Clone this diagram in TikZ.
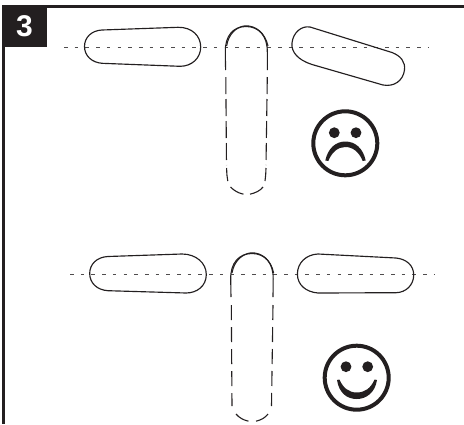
\documentclass[tikz,border=0pt]{standalone}
\usepackage{fontspec}
\setsansfont{Liberation Sans}
\usepackage{xcolor}
\definecolor{inkdark}{HTML}{231F20}
\usetikzlibrary{
	positioning,
	calc
}
\tikzset{
	frameline/.style={draw=inkdark, line width=2.6pt},
	pill/.style={draw=inkdark, line width=1.15pt},
	axisline/.style={draw=inkdark!80, line width=1.5pt, dash pattern=on 3.6pt off 7.1pt},
	ghost/.style={draw=inkdark, line width=1.1pt},
	ghostupper/.style={ghost, dash pattern=on 17pt off 5pt},
	ghostlower/.style={ghost, dash pattern=on 15pt off 7pt},
	faceline/.style={draw=inkdark, line width=4pt},
	eye/.style={fill=inkdark, draw=none},
	numberbox/.style={fill=inkdark, text=white, font=\sffamily\bfseries\fontsize{30}{30}\selectfont, minimum width=45pt, minimum height=42pt, inner sep=0pt}
}
\begin{document}
\begin{tikzpicture}[x=1pt, y=-1pt]
	\useasboundingbox (0,0) rectangle (464,424);
	
	% --- Cornice ---
	\draw[frameline] (464,6.3) -- (3.6,6.3) -- (3.6,424);
	\node[numberbox] (badge) at (24.5,26) {3};
	
	% --- Linee orizzontali ---
	\draw[axisline] (64,47.7) -- (429,47.7);
	\draw[axisline] (70,274.7) -- (434,274.7);
	
	% --- Figura in alto ---
	\draw[pill] (102,30) -- (178,27.3) .. controls (192,27) and (200.7,36) .. (200.7,47)
		.. controls (200.7,58) and (192,66.3) .. (180,66.3) -- (102,63.3)
		.. controls (92,62.5) and (84.5,56) .. (84.5,46.5)
		.. controls (84.5,37) and (92,30.5) .. (102,30) -- cycle;
	% tratteggio verticale
	\draw[ghost] (225.6,70) -- (225.3,52) .. controls (225,36) and (233,26.5) .. (246,26.5)
		.. controls (259,26.5) and (267.5,36) .. (267.3,52) -- (267.3,70);
	\draw[ghost] (226.6,46) .. controls (228.5,34) and (236,27) .. (245,25.8)
		.. controls (256,25.5) and (265,33) .. (268,46);
	\draw[ghostupper] (225.8,77) -- (226.5,165);
	\draw[ghostupper] (267.3,77) -- (266,165);
	\draw[ghost] (226.6,168) .. controls (226.8,174) and (227,177) .. (227.8,181);
	\draw[ghost] (266,168) .. controls (265.8,174) and (265.6,177) .. (265,181);
	\draw[ghost] (230.5,187) .. controls (234,190.5) and (238,193) .. (243.5,194.2);
	\draw[ghost] (250,194.2) .. controls (255,193) and (260,191) .. (263,187);
	\draw[pill] (310,27) -- (392,52.5) .. controls (401,56) and (405.5,62) .. (404.5,70)
		.. controls (403,81) and (394,87) .. (383,85)
		-- (312,64.5) .. controls (298,60) and (291,52) .. (292,43)
		.. controls (293,33) and (301,25.5) .. (310,27) -- cycle;
	
	% --- Faccia triste ---
	\draw[faceline] (345.3,143.3) circle (32);
	\fill[eye] (334.3,132.7) circle (5.4);
	\fill[eye] (356,132.7) circle (5.4);
	\fill[inkdark] (325.3,160.5) .. controls (328,148) and (336,141.5) .. (345.3,141.5)
		.. controls (355,141.5) and (363,148) .. (365.7,160.5) -- (362.7,161)
		.. controls (359,152) and (353,147) .. (345.3,147)
		.. controls (338,147) and (332,152) .. (328.3,161) -- cycle;
	
	% --- Figura in basso ---
	\draw[pill] (108,256.5) -- (182,254) .. controls (196,254) and (206.3,263) .. (206.3,274.5)
		.. controls (206.3,286) and (197,293) .. (186,293) -- (108,290.7)
		.. controls (97,290) and (89.7,283) .. (89.7,273.5)
		.. controls (89.7,264) and (97,257) .. (108,256.5) -- cycle;
	% tratteggio verticale
	\draw[ghost] (231,297) -- (230.7,279) .. controls (230.4,263) and (239,253.5) .. (252,253.5)
		.. controls (265,253.5) and (273.5,263) .. (273.2,279) -- (273,297);
	\draw[ghost] (232,273) .. controls (234,261) and (242,254) .. (251,252.8)
		.. controls (262,252.5) and (271,260) .. (273.6,273);
	\draw[ghostlower] (231.3,305) -- (232,406);
	\draw[ghostlower] (273,305) -- (271.5,406);
	\draw[ghost] (236,414) .. controls (239,417.5) and (243,420) .. (248.5,421.2);
	\draw[ghost] (256,421.2) .. controls (261,420) and (265,418) .. (268,414);
	\draw[pill] (318,254) -- (396,258) .. controls (406,259) and (413.7,265) .. (413.7,275)
		.. controls (413.7,285) and (406,292.5) .. (396,292.7)
		-- (318,293) .. controls (306,292) and (297.4,285) .. (297.4,274)
		.. controls (297.4,263) and (306,254.5) .. (318,254) -- cycle;
	
	% --- Faccia sorridente ---
	\draw[faceline] (356.7,377.7) circle (32);
	\fill[eye] (346,366.7) circle (5.4);
	\fill[eye] (367.7,366.7) circle (5.4);
	\fill[inkdark] (337,380) .. controls (339,393) and (347,399) .. (356.7,399)
		.. controls (366,399) and (375,393) .. (377,380) -- (374.5,379.5)
		.. controls (371,388) and (365,392.5) .. (356.7,392.5)
		.. controls (349,392.5) and (343,388) .. (339.5,379.5) -- cycle;
\end{tikzpicture}
\end{document}
